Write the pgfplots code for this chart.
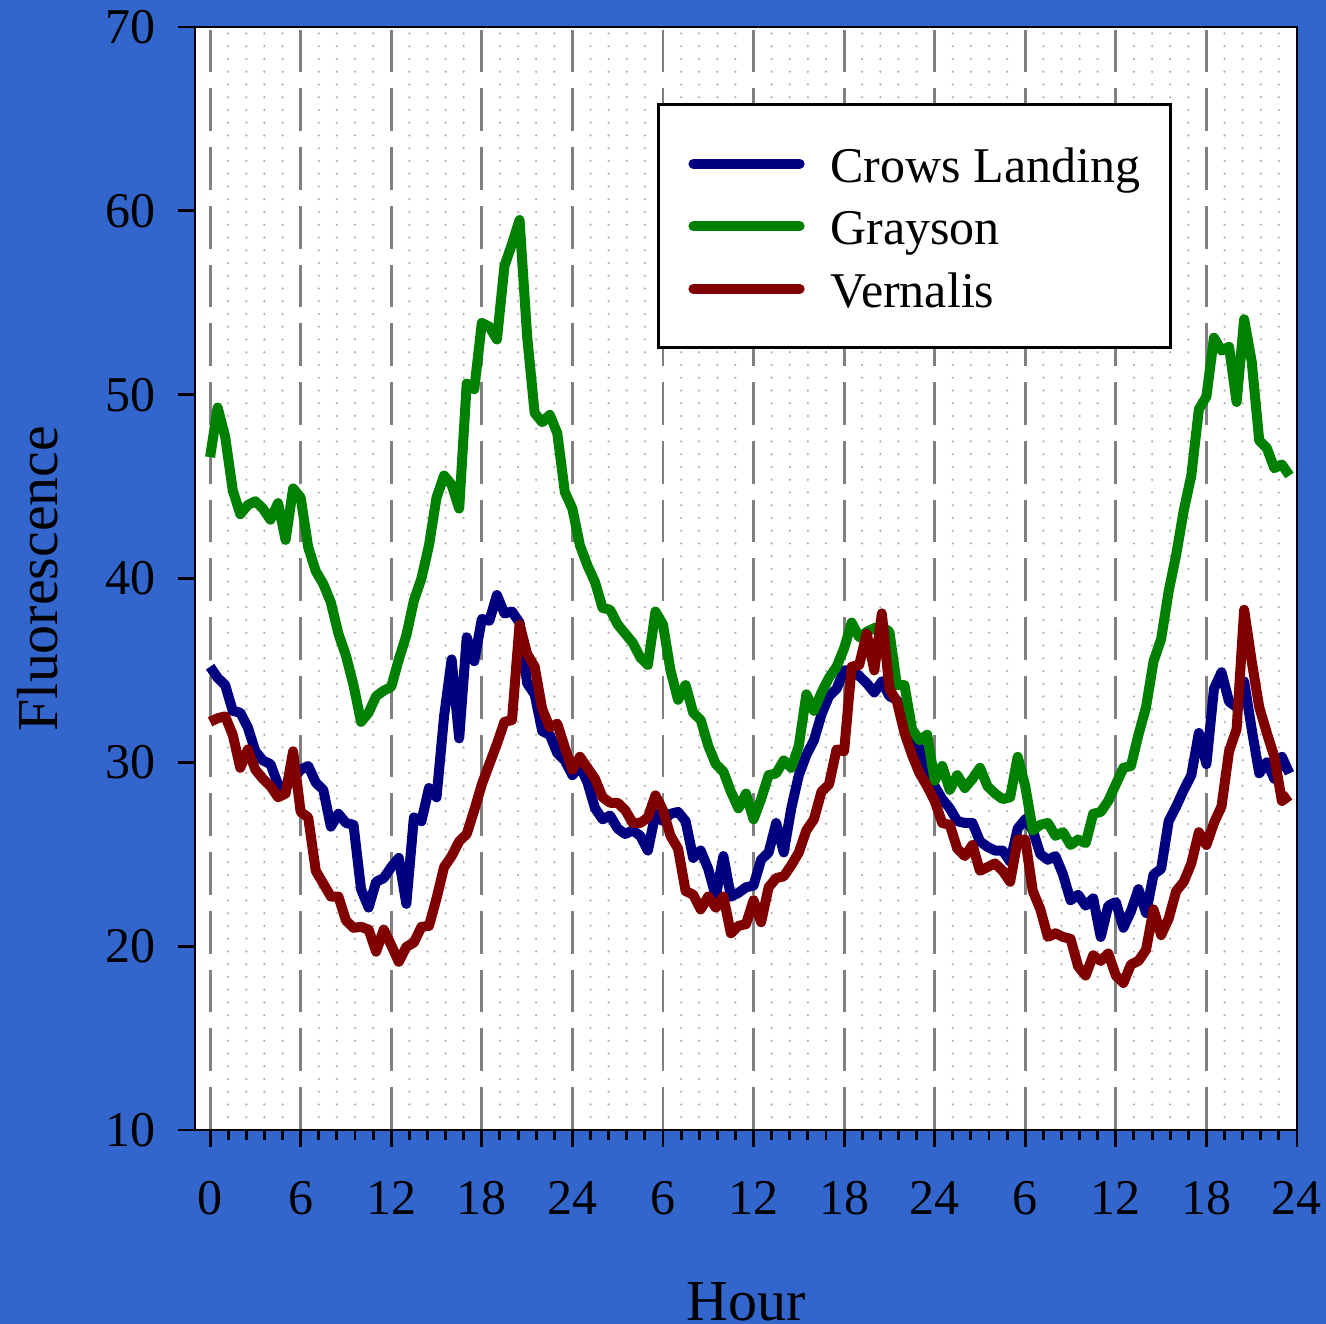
\documentclass[border=0pt]{standalone}
\usepackage{fontspec}
\setmainfont{Liberation Serif}
\usepackage{pgfplots}
\pgfplotsset{compat=1.18}
\definecolor{bgblue}{RGB}{51,102,204}
\definecolor{cl}{RGB}{0,0,128}
\definecolor{gr}{RGB}{0,128,0}
\definecolor{ve}{RGB}{128,0,0}
\begin{document}
\begin{tikzpicture}
\fill[bgblue] (-46.8pt,-46.56pt) rectangle (271.44pt,271.2pt);
\begin{axis}[
  at={(0,0)}, anchor=south west,
  scale only axis,
  width=264.48pt, height=264.72pt,
  xmin=-1, xmax=72, ymin=10, ymax=70,
  axis background/.style={fill=white},
  axis line style={line width=0.7pt},
  xtick={0,6,...,72},
  xticklabels={0,6,12,18,24,6,12,18,24,6,12,18,24},
  ytick={10,20,...,70},
  minor x tick num=4,
  xtick pos=bottom, ytick pos=left,
  tick align=outside,
  major tick length=4pt, minor tick length=2.4pt,
  every tick/.style={black, line width=0.7pt},
  xmajorgrids, xminorgrids,
  major grid style={black!50, line width=0.7pt, dash pattern=on 10.3pt off 3.8pt},
  minor grid style={black!30, line width=0.6pt, line cap=round, dash pattern=on 0pt off 3.06pt},
  tick label style={font=\fontsize{12}{14}\selectfont},
  /pgf/number format/assume math mode=true,
  xticklabel style={yshift=-4.7pt},
  yticklabel style={xshift=-2pt},
  xlabel={Hour}, ylabel={Fluorescence},
  label style={font=\fontsize{13.9}{16}\selectfont},
  xlabel style={at={(axis description cs:0.5,-0.1723)}, anchor=base},
  ylabel style={at={(axis description cs:-0.1252,0.5)}, anchor=base},
  legend style={
    at={(axis description cs:0.4192,0.931)}, anchor=north west,
    draw=black, line width=0.7pt, fill=white,
    inner xsep=7.2pt, inner ysep=8.7pt,
    row sep=4pt, column sep=6.2pt,
    font=\fontsize{12}{14}\selectfont,
    nodes={inner sep=0pt, text height=10pt, text depth=1pt},
  },
  legend cell align=left,
  legend image code/.code={\draw[#1,line cap=round] (1pt,0pt) -- (26.5pt,0pt);},
  every axis plot/.append style={line width=2.4pt, line join=round},
]
\addplot[cl] coordinates {
(0,35.2) (0.5,34.6) (1,34.2) (1.5,32.8) (2,32.7) (2.5,31.9) (3,30.6) (3.5,30.1)
(4,29.9) (4.5,28.8) (5,28.6) (5.5,29.1) (6,29.6) (6.5,29.8) (7,28.9) (7.5,28.5)
(8,26.5) (8.5,27.2) (9,26.7) (9.5,26.6) (10,23.1) (10.5,22.1) (11,23.5) (11.5,23.7)
(12,24.3) (12.5,24.8) (13,22.3) (13.5,27.0) (14,26.8) (14.5,28.6) (15,28.1) (15.5,32.5)
(16,35.6) (16.5,31.3) (17,36.8) (17.5,35.5) (18,37.8) (18.5,37.7) (19,39.1) (19.5,38.1)
(20,38.2) (20.5,37.6) (21,34.3) (21.5,33.7) (22,31.7) (22.5,31.5) (23,30.5) (23.5,30.1)
(24,29.3) (24.5,29.8) (25,28.9) (25.5,27.5) (26,26.9) (26.5,27.1) (27,26.4) (27.5,26.1)
(28,26.3) (28.5,26.0) (29,25.2) (29.5,27.2) (30,26.8) (30.5,27.2) (31,27.3) (31.5,26.8)
(32,24.8) (32.5,25.2) (33,24.2) (33.5,22.7) (34,24.9) (34.5,22.7) (35,22.9) (35.5,23.2)
(36,23.3) (36.5,24.7) (37,25.1) (37.5,26.7) (38,25.1) (38.5,27.5) (39,29.3) (39.5,30.4)
(40,31.2) (40.5,32.6) (41,33.6) (41.5,34.0) (42,35.0) (42.5,35.0) (43,34.7) (43.5,34.3)
(44,33.8) (44.5,34.4) (45,33.6) (45.5,33.4) (46,32.2) (46.5,31.2) (47,30.8) (47.5,29.3)
(48,28.7) (48.5,28.0) (49,27.5) (49.5,26.8) (50,26.7) (50.5,26.7) (51,25.7) (51.5,25.4)
(52,25.2) (52.5,25.2) (53,24.6) (53.5,26.4) (54,26.9) (54.5,26.3) (55,25.0) (55.5,24.7)
(56,24.9) (56.5,23.9) (57,22.5) (57.5,22.8) (58,22.2) (58.5,22.6) (59,20.5) (59.5,22.2)
(60,22.4) (60.5,21.0) (61,21.9) (61.5,23.1) (62,21.8) (62.5,23.9) (63,24.2) (63.5,26.8)
(64,27.6) (64.5,28.5) (65,29.3) (65.5,31.6) (66,29.9) (66.5,34.0) (67,34.9) (67.5,33.3)
(68,33.0) (68.5,34.4) (69,31.8) (69.5,29.4) (70,30.0) (70.5,29.1) (71,30.3) (71.5,29.4)
};
\addlegendentry{Crows Landing}
\addplot[gr] coordinates {
(0,46.6) (0.5,49.3) (1,47.7) (1.5,44.8) (2,43.5) (2.5,44.0) (3,44.2) (3.5,43.8)
(4,43.2) (4.5,44.1) (5,42.1) (5.5,44.9) (6,44.4) (6.5,41.7) (7,40.4) (7.5,39.7)
(8,38.7) (8.5,37.0) (9,35.8) (9.5,34.2) (10,32.2) (10.5,32.7) (11,33.6) (11.5,33.9)
(12,34.1) (12.5,35.6) (13,36.9) (13.5,38.8) (14,40.0) (14.5,41.8) (15,44.4) (15.5,45.6)
(16,45.1) (16.5,43.8) (17,50.6) (17.5,50.3) (18,53.9) (18.5,53.7) (19,53.0) (19.5,57.0)
(20,58.2) (20.5,59.5) (21,53.2) (21.5,49.0) (22,48.5) (22.5,48.9) (23,47.9) (23.5,44.7)
(24,43.8) (24.5,41.8) (25,40.7) (25.5,39.8) (26,38.4) (26.5,38.3) (27,37.5) (27.5,37.0)
(28,36.5) (28.5,35.7) (29,35.3) (29.5,38.2) (30,37.5) (30.5,35.0) (31,33.4) (31.5,34.2)
(32,32.7) (32.5,32.3) (33,30.9) (33.5,29.9) (34,29.5) (34.5,28.4) (35,27.5) (35.5,28.3)
(36,26.9) (36.5,28.0) (37,29.3) (37.5,29.4) (38,30.1) (38.5,29.7) (39,30.9) (39.5,33.7)
(40,32.8) (40.5,33.8) (41,34.6) (41.5,35.2) (42,36.2) (42.5,37.6) (43,36.8) (43.5,37.1)
(44,37.3) (44.5,37.4) (45,37.1) (45.5,34.2) (46,34.2) (46.5,31.8) (47,31.2) (47.5,31.5)
(48,29.0) (48.5,29.8) (49,28.5) (49.5,29.3) (50,28.6) (50.5,29.1) (51,29.7) (51.5,28.7)
(52,28.3) (52.5,28.0) (53,28.1) (53.5,30.3) (54,28.7) (54.5,26.3) (55,26.6) (55.5,26.7)
(56,26.0) (56.5,26.2) (57,25.5) (57.5,25.8) (58,25.6) (58.5,27.2) (59,27.3) (59.5,27.9)
(60,28.8) (60.5,29.7) (61,29.8) (61.5,31.5) (62,33.0) (62.5,35.5) (63,36.7) (63.5,39.3)
(64,41.3) (64.5,43.7) (65,45.6) (65.5,49.2) (66,49.9) (66.5,53.1) (67,52.4) (67.5,52.6)
(68,49.6) (68.5,54.1) (69,51.8) (69.5,47.5) (70,47.1) (70.5,46.0) (71,46.2) (71.5,45.6)
};
\addlegendentry{Grayson}
\addplot[ve] coordinates {
(0,32.2) (0.5,32.4) (1,32.5) (1.5,31.5) (2,29.7) (2.5,30.7) (3,29.6) (3.5,29.1)
(4,28.7) (4.5,28.1) (5,28.3) (5.5,30.6) (6,27.3) (6.5,27.0) (7,24.1) (7.5,23.4)
(8,22.7) (8.5,22.7) (9,21.4) (9.5,21.0) (10,21.05) (10.5,20.9) (11,19.7) (11.5,20.9)
(12,20.05) (12.5,19.15) (13,19.96) (13.5,20.2) (14,21.05) (14.5,21.1) (15,22.6) (15.5,24.3)
(16,24.9) (16.5,25.7) (17,26.1) (17.5,27.4) (18,28.8) (18.5,29.9) (19,31.0) (19.5,32.2)
(20,32.3) (20.5,37.5) (21,35.9) (21.5,35.2) (22,32.9) (22.5,31.9) (23,32.1) (23.5,30.8)
(24,29.6) (24.5,30.3) (25,29.7) (25.5,29.1) (26,28.1) (26.5,27.8) (27,27.8) (27.5,27.4)
(28,26.7) (28.5,26.7) (29,27.0) (29.5,28.2) (30,27.4) (30.5,26.0) (31,25.3) (31.5,23.0)
(32,22.8) (32.5,22.0) (33,22.7) (33.5,22.1) (34,22.7) (34.5,20.7) (35,21.1) (35.5,21.2)
(36,22.5) (36.5,21.3) (37,23.2) (37.5,23.7) (38,23.8) (38.5,24.4) (39,25.1) (39.5,26.3)
(40,26.9) (40.5,28.4) (41,28.8) (41.5,30.7) (42,30.6) (42.5,35.2) (43,35.3) (43.5,37.0)
(44,35.0) (44.5,38.1) (45,34.0) (45.5,33.3) (46,31.6) (46.5,30.4) (47,29.4) (47.5,28.7)
(48,27.9) (48.5,26.7) (49,26.6) (49.5,25.3) (50,24.9) (50.5,25.5) (51,24.1) (51.5,24.3)
(52,24.5) (52.5,24.1) (53,23.5) (53.5,25.8) (54,25.8) (54.5,23.0) (55,22.0) (55.5,20.5)
(56,20.7) (56.5,20.5) (57,20.4) (57.5,18.9) (58,18.4) (58.5,19.5) (59,19.2) (59.5,19.6)
(60,18.4) (60.5,18.0) (61,19.0) (61.5,19.2) (62,19.8) (62.5,22.0) (63,20.6) (63.5,21.5)
(64,23.0) (64.5,23.5) (65,24.5) (65.5,26.2) (66,25.5) (66.5,26.7) (67,27.6) (67.5,30.6)
(68,31.8) (68.5,38.3) (69,35.5) (69.5,33.0) (70,31.6) (70.5,30.3) (71,27.9) (71.5,28.2)
};
\addlegendentry{Vernalis}
\end{axis}
\pgfresetboundingbox
\path (-46.8pt,-46.56pt) rectangle (271.44pt,271.2pt);
\end{tikzpicture}
\end{document}
